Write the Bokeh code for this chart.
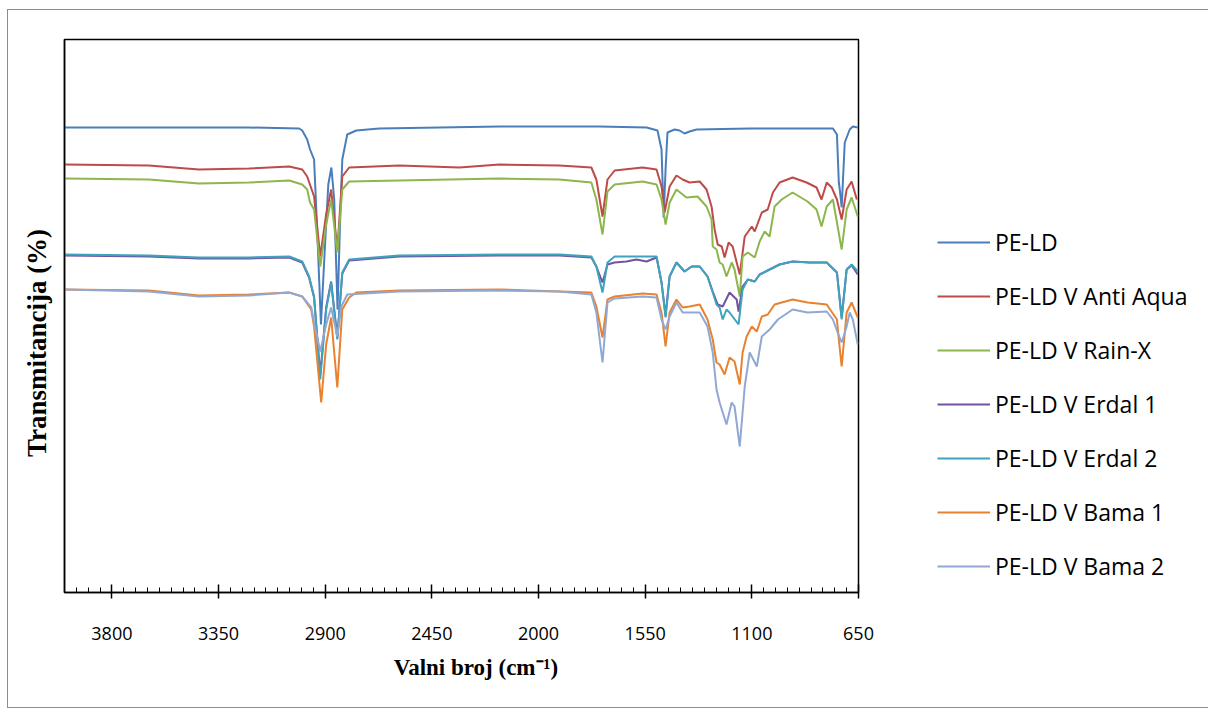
from bokeh.plotting import figure
from bokeh.models import Range1d, FixedTicker, Legend, LegendItem
from bokeh.embed import file_html
from bokeh.resources import INLINE

# ---------------- data ----------------
series_names = ["PE-LD", "PE-LD V Anti Aqua", "PE-LD V Rain-X", "PE-LD V Erdal 1",
                "PE-LD V Erdal 2", "PE-LD V Bama 1", "PE-LD V Bama 2"]
series_colors = ["#4A7EBB", "#BE4B48", "#8DB64C", "#7253A0", "#3FA3BD", "#E8822F", "#91A8D3"]

x_ticks = [650, 1100, 1550, 2000, 2450, 2900, 3350, 3800]

wn_peld = [4000, 3644, 3222, 3010, 2997, 2976, 2964, 2947, 2934, 2918, 2904, 2887, 2874, 2862, 2848,
           2837, 2828, 2807, 2769, 2672, 2165, 1743, 1544, 1498, 1481, 1472, 1464, 1456, 1426, 1405,
           1384, 1363, 1333, 1109, 758, 741, 733, 729, 721, 708, 687, 674, 653]
t_peld = [93.0, 93.0, 93.0, 92.8, 92.4, 90.6, 88.6, 86.6, 72.6, 53.6, 66.6, 81.6, 85.0, 78.6, 56.6,
          74.6, 86.6, 91.6, 92.4, 92.8, 93.2, 93.2, 93.0, 92.4, 88.6, 75.0, 84.6, 92.0, 92.6, 92.4,
          91.8, 92.2, 92.6, 92.8, 92.8, 91.6, 82.0, 80.6, 77.0, 90.0, 92.6, 93.2, 93.0]

wn_anti = [4000, 3644, 3433, 3222, 3052, 2997, 2976, 2947, 2921, 2896, 2875, 2849, 2828, 2799, 2588,
           2334, 2165, 1912, 1777, 1756, 1730, 1709, 1679, 1561, 1502, 1481, 1468, 1447, 1418, 1392,
           1363, 1320, 1291, 1270, 1257, 1244, 1227, 1215, 1198, 1181, 1151, 1130, 1100, 1088, 1058,
           1033, 1011, 983, 928, 869, 827, 806, 784, 763, 741, 721, 700, 679, 657]
t_anti = [85.6, 85.4, 84.6, 84.8, 85.2, 84.6, 83.2, 79.2, 67.2, 75.6, 80.6, 68.6, 83.2, 85.0, 85.4,
          85.0, 85.6, 85.4, 85.0, 82.6, 75.2, 82.6, 84.4, 85.0, 84.6, 81.2, 76.0, 81.2, 83.4, 82.6,
          82.0, 82.2, 80.6, 77.2, 72.6, 69.6, 69.2, 67.0, 70.0, 69.2, 63.6, 71.2, 73.2, 72.2, 76.0,
          76.6, 80.0, 82.0, 83.0, 82.0, 81.0, 78.6, 82.0, 81.0, 78.6, 74.6, 80.6, 82.2, 78.6]

wn_rain = [4000, 3644, 3433, 3222, 3052, 2997, 2976, 2964, 2947, 2921, 2896, 2875, 2849, 2828, 2799,
           2588, 2165, 1912, 1777, 1756, 1730, 1709, 1679, 1561, 1502, 1481, 1464, 1447, 1418, 1376,
           1329, 1291, 1270, 1265, 1249, 1236, 1223, 1207, 1185, 1173, 1151, 1139, 1117, 1088, 1067,
           1046, 1025, 1004, 974, 928, 865, 827, 806, 784, 758, 738, 721, 700, 679, 653]
t_rain = [82.8, 82.6, 81.8, 82.0, 82.4, 81.6, 80.6, 78.0, 76.6, 65.2, 73.6, 78.6, 68.0, 80.6, 82.2,
          82.4, 82.8, 82.6, 82.0, 78.6, 71.6, 80.2, 81.6, 82.2, 81.6, 78.6, 73.6, 78.0, 80.6, 79.0,
          79.2, 77.2, 74.6, 69.2, 68.6, 66.0, 65.6, 63.2, 66.0, 64.6, 59.2, 67.2, 68.0, 67.0, 70.2,
          72.2, 71.2, 77.2, 78.6, 80.0, 78.2, 76.6, 73.2, 77.2, 78.6, 73.2, 68.6, 76.6, 79.0, 75.2]

wn_erdal1 = [4000, 3644, 3433, 3222, 3052, 2997, 2968, 2947, 2921, 2896, 2875, 2849, 2828, 2799, 2588,
             2165, 1912, 1777, 1756, 1730, 1709, 1679, 1629, 1587, 1544, 1502, 1481, 1464, 1447, 1418,
             1384, 1354, 1320, 1287, 1265, 1244, 1223, 1194, 1164, 1156, 1139, 1117, 1088, 1067, 1025,
             983, 928, 856, 784, 741, 721, 700, 679, 653]
t_erdal1 = [67.4, 67.2, 66.8, 66.8, 67.0, 66.0, 63.0, 59.0, 43.6, 57.0, 62.2, 51.0, 63.8, 66.4, 67.2,
            67.4, 67.4, 67.0, 65.2, 62.0, 65.6, 66.0, 66.2, 66.6, 66.2, 67.0, 62.0, 55.4, 63.2, 66.0,
            64.2, 65.2, 65.2, 63.2, 60.2, 57.6, 57.2, 60.0, 58.6, 56.2, 61.2, 62.6, 62.2, 63.6, 64.6,
            65.6, 66.2, 66.0, 66.0, 64.0, 55.0, 64.6, 65.4, 63.6]

wn_erdal2 = [4000, 3644, 3433, 3222, 3052, 2997, 2968, 2947, 2921, 2896, 2875, 2849, 2828, 2799, 2588,
             2165, 1912, 1777, 1756, 1730, 1709, 1679, 1502, 1481, 1464, 1447, 1418, 1384, 1354, 1320,
             1287, 1265, 1249, 1236, 1223, 1207, 1194, 1156, 1139, 1117, 1088, 1067, 1025, 983, 928,
             856, 784, 741, 721, 700, 679, 653]
t_erdal2 = [67.6, 67.4, 67.0, 67.0, 67.2, 66.2, 63.2, 59.2, 42.6, 56.6, 62.0, 50.6, 64.0, 66.6, 67.4,
            67.6, 67.6, 67.2, 65.2, 60.0, 66.0, 67.2, 67.2, 62.0, 55.0, 63.2, 66.0, 64.2, 65.2, 65.2,
            63.2, 60.0, 57.6, 57.0, 54.6, 56.6, 56.0, 53.6, 60.6, 62.6, 62.2, 63.6, 64.6, 65.6, 66.2,
            66.0, 66.0, 64.0, 54.6, 64.6, 65.6, 64.2]

wn_bama1 = [4000, 3644, 3433, 3222, 3052, 2997, 2959, 2947, 2917, 2896, 2875, 2849, 2828, 2799, 2769,
            2588, 2165, 1912, 1777, 1756, 1730, 1709, 1679, 1561, 1502, 1481, 1464, 1447, 1418, 1392,
            1363, 1320, 1287, 1265, 1249, 1236, 1215, 1194, 1173, 1151, 1139, 1122, 1100, 1079, 1058,
            1033, 1004, 974, 928, 865, 784, 741, 733, 721, 700, 679, 653]
t_bama1 = [60.6, 60.4, 59.4, 59.6, 60.0, 59.2, 56.6, 53.2, 38.0, 49.6, 55.0, 41.0, 56.6, 59.0, 60.0,
           60.4, 60.6, 60.2, 60.0, 57.2, 51.0, 58.6, 59.2, 59.8, 59.6, 56.0, 49.2, 56.0, 58.6, 57.0,
           57.2, 57.6, 54.6, 50.6, 46.0, 45.6, 43.6, 47.0, 46.2, 41.6, 48.0, 51.2, 53.2, 52.2, 55.2,
           55.6, 57.6, 58.0, 58.6, 58.0, 57.6, 54.6, 50.6, 45.2, 56.0, 58.0, 55.0]

wn_bama2 = [4000, 3644, 3433, 3222, 3052, 2997, 2959, 2947, 2921, 2896, 2875, 2849, 2832, 2807, 2588,
            2165, 1912, 1777, 1756, 1730, 1709, 1679, 1561, 1502, 1481, 1464, 1447, 1418, 1392, 1363,
            1320, 1287, 1265, 1249, 1236, 1207, 1185, 1173, 1151, 1130, 1109, 1079, 1058, 1025, 990,
            928, 865, 784, 758, 738, 721, 700, 687, 674, 653]
t_bama2 = [60.6, 60.2, 59.2, 59.4, 60.0, 59.2, 57.0, 54.0, 48.2, 53.6, 57.0, 51.2, 57.2, 59.6, 60.2,
           60.4, 60.2, 59.6, 56.0, 46.0, 58.0, 58.8, 59.2, 59.0, 54.6, 52.6, 55.2, 58.0, 56.0, 56.0,
           56.0, 53.2, 48.0, 40.6, 38.0, 33.6, 38.0, 37.2, 29.2, 41.2, 48.0, 45.2, 51.2, 52.6, 54.6,
           56.6, 56.0, 56.2, 54.6, 52.0, 50.0, 53.2, 56.0, 54.6, 49.6]

all_series = [(wn_peld, t_peld), (wn_anti, t_anti), (wn_rain, t_rain), (wn_erdal1, t_erdal1),
              (wn_erdal2, t_erdal2), (wn_bama1, t_bama1), (wn_bama2, t_bama2)]

# ---------------- figure ----------------
p = figure(frame_width=794, frame_height=553,
           min_border_left=56, min_border_right=347, min_border_top=29, min_border_bottom=115,
           x_range=Range1d(4000, 650), y_range=Range1d(0, 110.6),
           output_backend="svg", toolbar_location=None)
p.margin = (9, 0, 0, 7)
p.styles = {"border": "1px solid #8c8c8c"}

p.xgrid.visible = False
p.ygrid.visible = False
p.outline_line_color = "black"
p.outline_line_width = 1.5
p.background_fill_color = "white"
p.border_fill_color = "white"

renderers = []
for (wn, t), c in zip(all_series, series_colors):
    r = p.line(wn, t, line_color=c, line_width=2)
    renderers.append(r)

# x axis
minor = [v for v in range(650, 4001, 50)]
p.xaxis.ticker = FixedTicker(ticks=x_ticks, minor_ticks=minor)
p.xaxis.axis_line_color = "black"
p.xaxis.axis_line_width = 1.5
p.xaxis.major_tick_in = 8
p.xaxis.major_tick_out = 6
p.xaxis.major_tick_line_width = 1.5
p.xaxis.minor_tick_in = 5
p.xaxis.minor_tick_out = 0
p.xaxis.minor_tick_line_width = 1
p.xaxis.major_label_text_font = "Open Sans"
p.xaxis.major_label_text_font_size = "18px"
p.xaxis.major_label_text_color = "black"
p.xaxis.major_label_standoff = 28
p.xaxis.axis_label = "\u00a0\u00a0\u00a0\u00a0\u00a0Valni broj (cm\u207b\u00b9)"
p.xaxis.axis_label_text_font = "Liberation Serif"
p.xaxis.axis_label_text_font_style = "bold"
p.xaxis.axis_label_text_font_size = "23px"
p.xaxis.axis_label_text_color = "black"
p.xaxis.axis_label_standoff = 12

# y axis
p.yaxis.ticker = FixedTicker(ticks=[])
p.yaxis.axis_line_color = "black"
p.yaxis.axis_line_width = 1.5
p.yaxis.major_tick_line_color = None
p.yaxis.minor_tick_line_color = None
p.yaxis.axis_label = "Transmitancija (%)" + "\u00a0" * 8
p.yaxis.axis_label_text_font = "Liberation Serif"
p.yaxis.axis_label_text_font_style = "bold"
p.yaxis.axis_label_text_font_size = "27px"
p.yaxis.axis_label_text_color = "black"
p.yaxis.axis_label_standoff = 13

legend = Legend(items=[LegendItem(label=n, renderers=[r]) for n, r in zip(series_names, renderers)],
                location=(79, 10), orientation="vertical")
legend.border_line_color = None
legend.background_fill_alpha = 0
legend.padding = 0
legend.margin = 0
legend.spacing = 22
legend.glyph_width = 53
legend.glyph_height = 20
legend.label_height = 20
legend.label_standoff = 5
legend.label_text_font = "Open Sans"
legend.label_text_font_size = "23px"
legend.label_text_color = "black"
p.add_layout(legend, "right")

open("out.html", "w").write(file_html(p, INLINE))
